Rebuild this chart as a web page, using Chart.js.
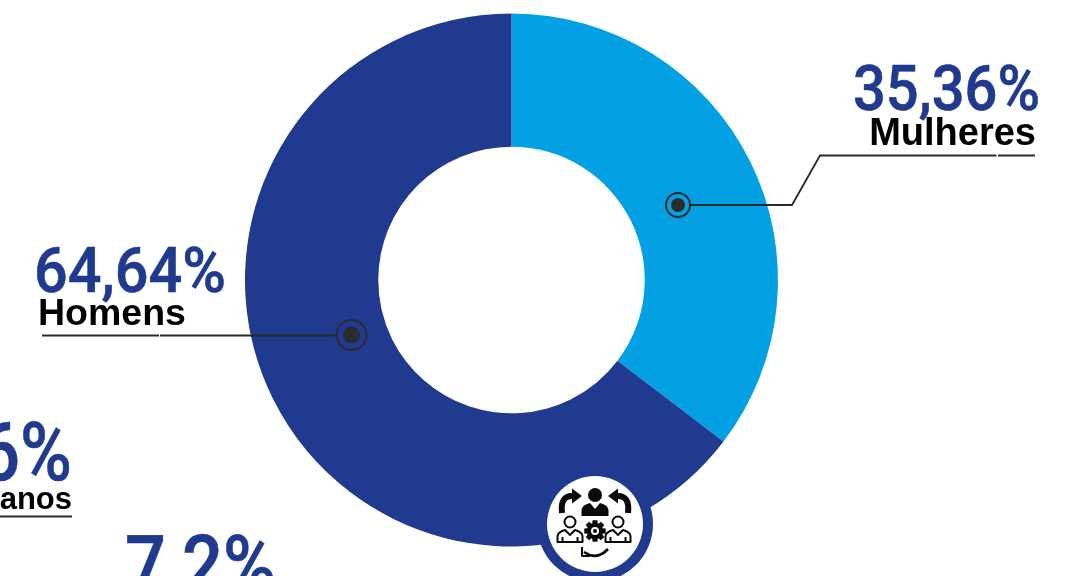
<!DOCTYPE html>
<html lang="pt">
<head>
<meta charset="utf-8">
<title>Distribuição por sexo</title>
<script src="https://cdn.jsdelivr.net/npm/chart.js@4"></script>
<style>
  html, body { margin: 0; padding: 0; background: #fff; overflow: hidden; }
  canvas { display: block; }
</style>
</head>
<body>
<canvas id="chart" width="1072" height="576"></canvas>
<script>
const categories = ['Mulheres', 'Homens'];
const shares = [35.36, 64.64];
const sliceColors = ['#03A0E4', '#1F3A8F'];

const NAVY = '#1F3A8F';
const INK = '#2B2B2B';

// Percentages: text, anchor x, baseline, size, drawn width, alignment
const figureLabels = [
  ['35,36%', 1040, 110, 63, 187, 'right'],
  ['64,64%', 34, 291.5, 63, 192, 'left'],
  ['6%', 72, 480, 82, 92, 'right'],
  ['7,2%', 125, 592.5, 82, 151, 'left']
];
// Captions: text, anchor x, baseline, size, alignment
const captionLabels = [
  ['Mulheres', 1036, 144.5, 38, 'right'],
  ['Homens', 38, 325, 37.5, 'left'],
  ['anos', 72, 508.5, 31, 'right']
];
// Leader lines as polylines
const leaders = [
  [[690, 205], [792, 205], [820, 155.5], [996.5, 155.5]],
  [[998, 155.5], [1035, 155.5]],
  [[42, 335.5], [159, 335.5]],
  [[160, 335.5], [337, 335.5]],
  [[0, 516.5], [72, 516.5]]
];
// Callout dots: x, y, ring radius, core radius
const dots = [
  [678, 205, 12, 7],
  [351.5, 335, 15, 8.5]
];

function strokePath(ctx, pts) {
  ctx.beginPath();
  pts.forEach((p, i) => i ? ctx.lineTo(p[0], p[1]) : ctx.moveTo(p[0], p[1]));
  ctx.stroke();
}

function drawArrow(ctx, sx, sy, cx, cy, ex, ey, hx, size, width) {
  // Curved shaft ending in a triangular head pointing sideways (hx = ±1)
  ctx.lineWidth = width;
  ctx.beginPath();
  ctx.moveTo(sx, sy);
  ctx.quadraticCurveTo(cx, cy, ex, ey);
  ctx.stroke();
  ctx.beginPath();
  ctx.moveTo(ex + hx * size, ey);
  ctx.lineTo(ex, ey - size * 0.75);
  ctx.lineTo(ex, ey + size * 0.75);
  ctx.closePath();
  ctx.fill();
}

function drawOutlinedPerson(ctx, x, y) {
  ctx.lineWidth = 2;
  ctx.beginPath();
  ctx.arc(x, y - 14, 5.5, 0, Math.PI * 2);
  ctx.stroke();
  ctx.beginPath();
  ctx.moveTo(x - 12.5, y + 6);
  ctx.lineTo(x - 12.5, y);
  ctx.quadraticCurveTo(x - 12, y - 4, x - 5, y - 6);
  ctx.lineTo(x, y - 1);
  ctx.lineTo(x + 5, y - 6);
  ctx.quadraticCurveTo(x + 12, y - 4, x + 12.5, y);
  ctx.lineTo(x + 12.5, y + 6);
  ctx.closePath();
  ctx.moveTo(x - 7.5, y + 6);
  ctx.lineTo(x - 7.5, y + 1);
  ctx.moveTo(x + 7.5, y + 6);
  ctx.lineTo(x + 7.5, y + 1);
  ctx.stroke();
}

function drawGear(ctx, x, y) {
  ctx.beginPath();
  for (let i = 0; i < 8; i++) {
    const a = (i * Math.PI) / 4;
    for (const [r, d] of [[8, -0.36], [11, -0.22], [11, 0.22], [8, 0.36]]) {
      ctx.lineTo(x + r * Math.cos(a + d), y + r * Math.sin(a + d));
    }
  }
  ctx.closePath();
  ctx.moveTo(x + 4, y);
  ctx.arc(x, y, 4, 0, Math.PI * 2, true);
  ctx.fill('evenodd');
  ctx.beginPath();
  ctx.arc(x, y, 2, 0, Math.PI * 2);
  ctx.fill();
}

function drawTeamBadge(ctx) {
  const x = 595, y = 524;
  ctx.fillStyle = NAVY;
  ctx.beginPath();
  ctx.arc(x, y, 58, 0, Math.PI * 2);
  ctx.fill();
  ctx.fillStyle = '#fff';
  ctx.beginPath();
  ctx.arc(x, y, 48, 0, Math.PI * 2);
  ctx.fill();

  ctx.fillStyle = '#0A0A0A';
  ctx.strokeStyle = '#0A0A0A';
  ctx.lineCap = 'butt';
  ctx.lineJoin = 'round';

  // Central figure
  ctx.beginPath();
  ctx.arc(x, 495, 7, 0, Math.PI * 2);
  ctx.fill();
  ctx.beginPath();
  ctx.moveTo(x - 13.5, 516);
  ctx.lineTo(x - 13.5, 510);
  ctx.quadraticCurveTo(x - 13, 505, x - 5, 503);
  ctx.lineTo(x, 509);
  ctx.lineTo(x + 5, 503);
  ctx.quadraticCurveTo(x + 13, 505, x + 13.5, 510);
  ctx.lineTo(x + 13.5, 516);
  ctx.closePath();
  ctx.fill();

  // Exchange arrows
  drawArrow(ctx, 562, 513, 560, 496, 572, 496, 1, 10, 6);
  drawArrow(ctx, 628, 513, 630, 496, 618, 496, -1, 10, 6);
  ctx.lineWidth = 2.6;
  ctx.beginPath();
  ctx.moveTo(608, 549);
  ctx.quadraticCurveTo(597, 561, 584, 552);
  ctx.stroke();
  ctx.lineWidth = 2;
  strokePath(ctx, [[582, 547], [582, 556], [590, 556]]);

  drawOutlinedPerson(ctx, 570, 536);
  drawOutlinedPerson(ctx, 618, 536);
  drawGear(ctx, 595, 531);
}

const calloutsPlugin = {
  id: 'callouts',
  afterDatasetsDraw(chart) {
    const ctx = chart.ctx;
    ctx.save();

    drawTeamBadge(ctx);

    ctx.strokeStyle = INK;
    ctx.lineWidth = 1.8;
    ctx.lineCap = 'butt';
    ctx.lineJoin = 'miter';
    leaders.forEach(pts => strokePath(ctx, pts));

    dots.forEach(([x, y, ring, core]) => {
      ctx.lineWidth = 2;
      ctx.beginPath();
      ctx.arc(x, y, ring, 0, Math.PI * 2);
      ctx.stroke();
      ctx.fillStyle = INK;
      ctx.beginPath();
      ctx.arc(x, y, core, 0, Math.PI * 2);
      ctx.fill();
    });

    ctx.textBaseline = 'alphabetic';
    ctx.fillStyle = NAVY;
    ctx.strokeStyle = NAVY;
    ctx.lineWidth = 0.6;
    figureLabels.forEach(([text, x, y, size, width, align]) => {
      ctx.font = `500 ${size}px Roboto, sans-serif`;
      ctx.textAlign = align;
      ctx.fillText(text, x, y, width);
      ctx.strokeText(text, x, y, width);
    });
    ctx.fillStyle = '#000';
    captionLabels.forEach(([text, x, y, size, align]) => {
      ctx.font = `bold ${size}px "Liberation Sans", Arial, sans-serif`;
      ctx.textAlign = align;
      ctx.fillText(text, x, y);
    });
    ctx.restore();
  }
};

new Chart(document.getElementById('chart'), {
  type: 'doughnut',
  data: {
    labels: categories,
    datasets: [{
      data: shares,
      backgroundColor: sliceColors,
      borderWidth: 0,
      hoverOffset: 0
    }]
  },
  options: {
    responsive: false,
    animation: false,
    cutout: '50%',
    rotation: 0,
    layout: { padding: { top: 13.5, bottom: 29.5, left: 245, right: 294 } },
    plugins: { legend: { display: false }, tooltip: { enabled: false } },
    events: []
  },
  plugins: [calloutsPlugin]
});
</script>
</body>
</html>
